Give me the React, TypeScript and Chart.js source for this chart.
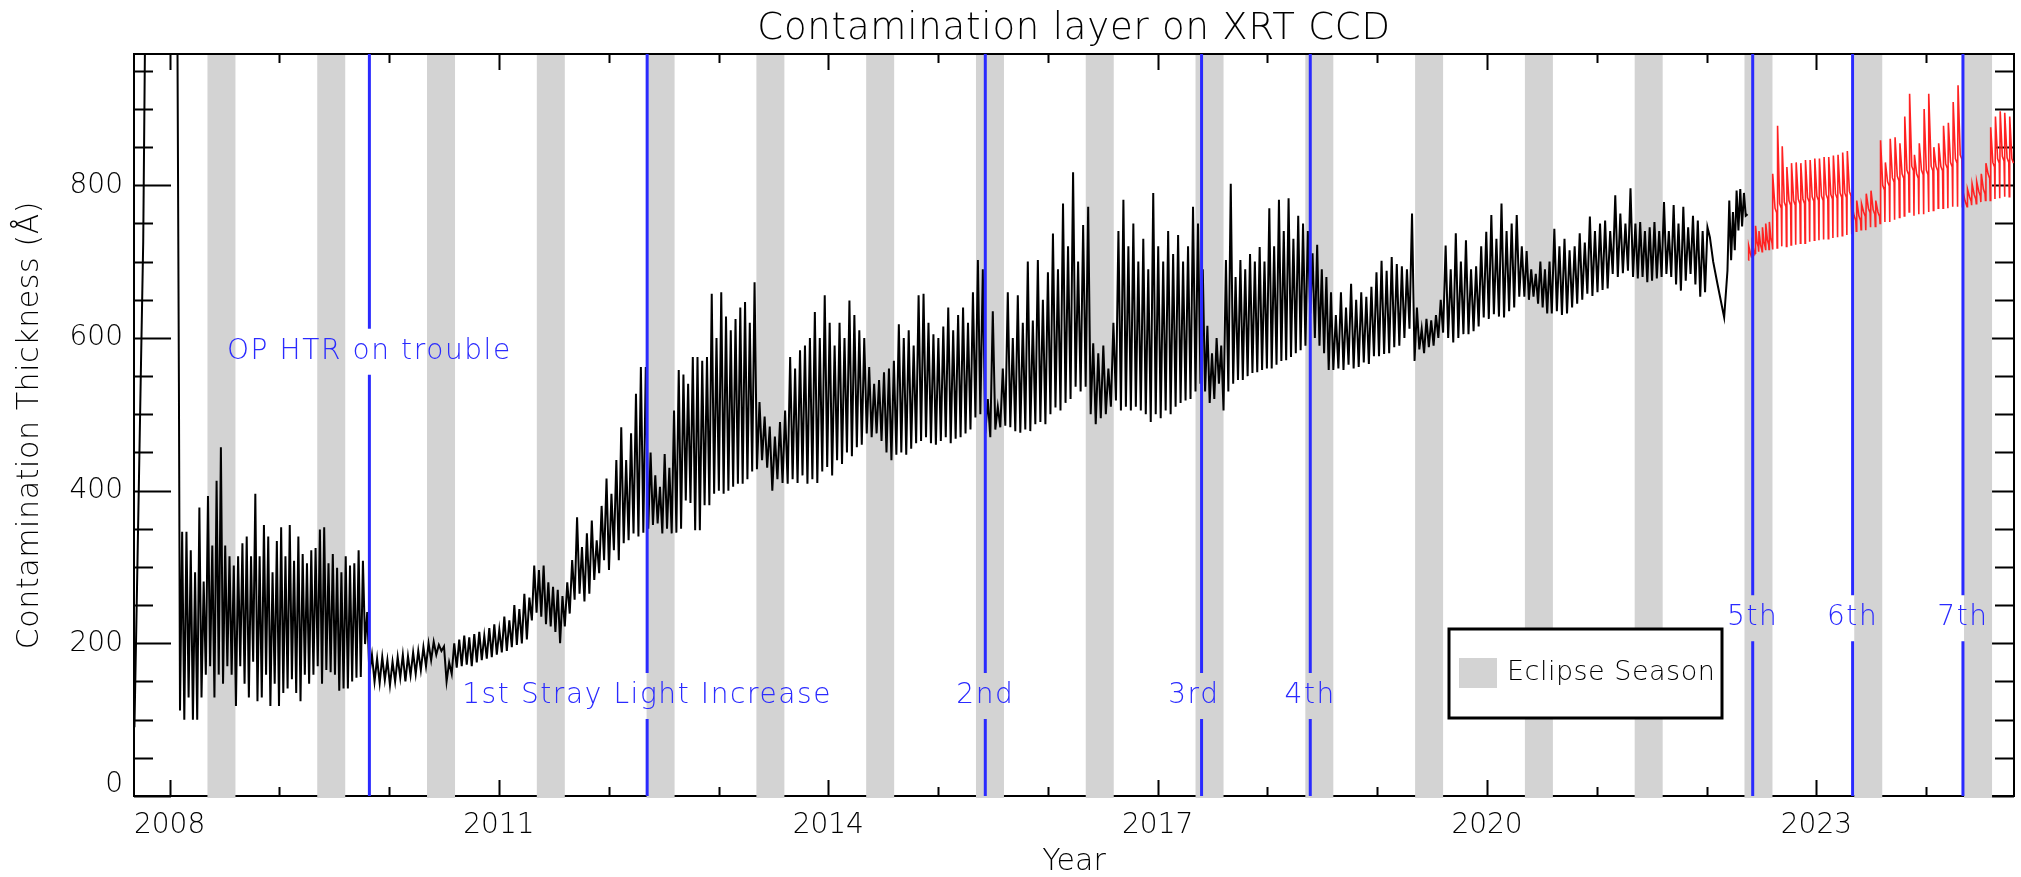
import React, { useEffect, useRef } from 'react';
import { Chart, registerables } from 'chart.js';

Chart.register(...registerables);

// ---------- axis ranges & ticks ----------
const X_MIN = 2007.676;
const X_MAX = 2024.8;
const Y_MIN = 0;
const Y_MAX = 972;

const xMajorTicks = [2008, 2011, 2014, 2017, 2020, 2023];
const xMajorLabels = ['2008', '2011', '2014', '2017', '2020', '2023'];
const xMinorTicks = [2008, 2009, 2010, 2011, 2012, 2013, 2014, 2015, 2016, 2017, 2018, 2019, 2020, 2021, 2022, 2023, 2024];
const yMajorTicks = [0, 200, 400, 600, 800];
const yMajorLabels = ['0', '200', '400', '600', '800'];
const yMinorTicks = [0, 50, 100, 150, 200, 250, 300, 350, 400, 450, 500, 550, 600, 650, 700, 750, 800, 850, 900, 950];

// ---------- eclipse seasons ----------
const eclipseStart = [2008.345, 2009.345, 2010.345, 2011.345, 2012.345, 2013.345, 2014.345, 2015.345, 2016.345, 2017.345, 2018.345, 2019.345, 2020.345, 2021.345, 2022.345, 2023.345, 2024.345];
const eclipseEnd = [2008.6, 2009.6, 2010.6, 2011.6, 2012.6, 2013.6, 2014.6, 2015.6, 2016.6, 2017.6, 2018.6, 2019.6, 2020.6, 2021.6, 2022.6, 2023.6, 2024.6];

// ---------- events (blue lines) ----------
const eventDates = [2009.82, 2012.35, 2015.43, 2017.4, 2018.39, 2022.42, 2023.33, 2024.335];
const eventLabels = ['OP HTR on trouble', '1st Stray Light Increase', '2nd', '3rd', '4th', '5th', '6th', '7th'];
const eventLabelValues = [582, 131, 131, 131, 131, 233, 233, 233];
const eventLabelShift = [0, 0, 0, -0.07, 0, 0, 0, 0];

// ---------- black series (XRT contamination) ----------
const rampDates = [2007.68, 2007.7, 2007.72, 2007.74, 2007.76, 2007.78, 2008.07, 2008.085];
const rampValues = [90, 245, 405, 568, 726, 1050, 1050, 542];

const dipDates = [2022.03, 2022.06, 2022.1, 2022.16, 2022.19];
const dipValues = [732, 700, 670, 627, 688];

const blackSpans: [number, number][] = [
  [2008.095, 2009.82], [2009.82, 2010.57], [2010.57, 2011.3], [2011.3, 2011.6], [2011.6, 2012.36],
  [2012.36, 2012.83], [2012.83, 2013.35], [2013.35, 2013.63], [2013.63, 2014.35], [2014.35, 2014.62],
  [2014.62, 2015.43], [2015.43, 2015.84], [2015.84, 2016.39], [2016.39, 2016.62], [2016.62, 2017.39],
  [2017.39, 2017.6], [2017.6, 2018.39], [2018.39, 2018.6], [2018.6, 2019.34], [2019.34, 2019.6],
  [2019.6, 2020.34], [2020.34, 2020.59], [2020.59, 2021.33], [2021.33, 2021.59], [2021.59, 2022.03],
  [2022.19, 2022.39],
];
const blackHighs: number[][] = [
  [346, 346, 322, 293, 378, 281, 393, 328, 413, 457, 328, 314, 302, 314, 331, 340, 314, 396, 314, 355, 340, 293, 334, 352, 314, 355, 308, 340, 317, 305, 322, 325, 349, 352, 305, 317, 299, 293, 314, 302, 305, 322, 308, 241],
  [185, 180, 182, 178, 176, 182, 185, 183, 188, 190, 195, 200, 202, 198, 196, 175],
  [200, 205, 210, 208, 212, 215, 210, 220, 225, 218, 235, 230, 250, 245, 265, 260],
  [302, 296, 302, 280, 274, 270, 262],
  [280, 309, 365, 326, 344, 361, 335, 380, 416, 396, 440, 483, 440, 475, 527, 562, 562],
  [450, 420, 405, 448, 430, 505, 558, 552, 540, 575, 575],
  [570, 575, 658, 600, 660, 628, 610, 625, 640, 647, 620, 673],
  [516, 497, 484, 471, 490, 505],
  [575, 560, 584, 590, 600, 634, 600, 656, 620, 590, 620, 600, 649, 630, 610, 600],
  [562, 540, 545, 555, 560, 570],
  [618, 600, 610, 590, 656, 658, 620, 605, 600, 615, 640, 610, 630, 640, 620, 660, 702, 690],
  [520, 635, 510, 560, 660, 600, 656, 620, 700],
  [623, 702, 650, 686, 737, 690, 776, 720, 817, 700, 748, 772],
  [593, 580, 590, 560, 620],
  [740, 781, 720, 750, 700, 730, 690, 790, 720, 700, 740, 710, 735, 700, 720, 772, 750],
  [690, 616, 580, 600, 590],
  [702, 802, 680, 702, 690, 710, 700, 719, 700, 770, 720, 781, 740, 783, 730, 760, 750, 740],
  [711, 722, 690, 680, 660],
  [630, 660, 640, 671, 650, 660, 654, 667, 686, 701, 688, 706, 697, 694, 690, 763],
  [640, 612, 625, 623, 630, 650],
  [721, 690, 737, 700, 728, 690, 694, 720, 739, 761, 730, 776, 740, 750, 761, 720],
  [714, 690, 684, 700, 690, 700],
  [743, 720, 730, 715, 720, 737, 725, 759, 740, 750, 754, 740, 787, 763, 750, 796],
  [750, 752, 740, 745, 752, 740],
  [778, 740, 774, 750, 772, 745, 760, 754, 740, 745],
  [780, 765, 793, 795, 790, 762],
];
const blackLows: number[][] = [
  [112, 100, 129, 100, 100, 129, 159, 170, 129, 159, 147, 170, 159, 118, 170, 147, 129, 176, 124, 129, 159, 118, 147, 118, 135, 141, 153, 135, 124, 159, 147, 159, 170, 147, 165, 162, 159, 138, 141, 141, 150, 155, 156, 199],
  [160, 150, 148, 152, 145, 150, 155, 150, 158, 160, 165, 170, 178, 185, 190, 150],
  [160, 168, 170, 172, 170, 175, 178, 180, 182, 185, 188, 190, 195, 198, 200, 205],
  [230, 240, 235, 225, 222, 215, 200],
  [222, 239, 257, 265, 255, 265, 283, 292, 309, 296, 322, 309, 331, 335, 344, 340, 345],
  [350, 355, 357, 344, 350, 344, 345, 350, 387, 384, 348],
  [348, 381, 381, 396, 400, 396, 400, 405, 409, 409, 415, 425],
  [428, 440, 430, 400, 415, 410],
  [409, 415, 410, 420, 409, 415, 410, 425, 431, 420, 440, 435, 450, 445, 457, 460],
  [475, 470, 475, 465, 450, 440],
  [447, 450, 447, 455, 462, 465, 470, 462, 460, 465, 470, 462, 468, 470, 475, 480, 496, 500],
  [475, 470, 480, 483, 485, 483, 478, 476, 480],
  [478, 487, 490, 487, 500, 509, 505, 515, 520, 536, 530, 536],
  [500, 487, 495, 500, 510],
  [518, 505, 510, 505, 510, 505, 500, 490, 500, 495, 505, 500, 510, 515, 518, 520, 530],
  [540, 530, 515, 520, 540],
  [505, 530, 540, 545, 545, 550, 554, 555, 558, 560, 560, 565, 570, 571, 575, 580, 584, 590],
  [632, 600, 590, 580, 558],
  [558, 560, 558, 565, 560, 562, 568, 566, 576, 576, 579, 580, 588, 590, 600, 612],
  [570, 585, 580, 588, 590, 600],
  [607, 600, 594, 600, 605, 605, 609, 615, 627, 625, 631, 628, 627, 635, 640, 654],
  [654, 650, 654, 645, 640, 632],
  [632, 635, 630, 632, 640, 645, 650, 658, 655, 660, 663, 665, 684, 680, 685, 688],
  [680, 678, 680, 673, 675, 678],
  [680, 684, 680, 670, 662, 675, 684, 670, 654, 660],
  [688, 702, 715, 741, 746, 760],
];

// ---------- red series (after 5th increase) ----------
const redSpans: [number, number][] = [
  [2022.38, 2022.6], [2022.6, 2023.32], [2023.32, 2023.58], [2023.58, 2024.33], [2024.33, 2024.54], [2024.54, 2024.8],
];
const redHighs: number[][] = [
  [721, 725, 747, 740, 745, 750, 752],
  [815, 878, 851, 824, 829, 830, 829, 833, 833, 835, 835, 837, 837, 839, 840, 843, 845],
  [776, 780, 776, 789, 793, 780],
  [859, 830, 861, 863, 855, 890, 920, 840, 855, 900, 920, 850, 855, 878, 882, 909, 931],
  [793, 795, 802, 805, 815],
  [829, 876, 890, 897, 895, 890],
];
const redMids: number[][] = [
  [712, 716, 725, 722, 725, 728, 730],
  [770, 776, 778, 780, 780, 782, 782, 784, 785, 786, 786, 788, 788, 789, 790, 790, 792],
  [760, 760, 765, 770, 768, 765],
  [800, 805, 810, 812, 815, 820, 825, 815, 820, 820, 825, 825, 825, 828, 830, 835, 840],
  [780, 785, 788, 792, 795],
  [815, 830, 835, 838, 836, 835],
];
const redLows: number[][] = [
  [702, 708, 711, 713, 713, 715, 716],
  [716, 718, 720, 720, 722, 722, 724, 724, 726, 728, 728, 729, 730, 731, 732, 734, 735],
  [736, 740, 742, 741, 745, 746],
  [750, 752, 752, 755, 758, 760, 765, 760, 762, 762, 765, 767, 770, 770, 770, 772, 772],
  [772, 772, 774, 776, 778],
  [780, 780, 782, 783, 785, 785],
];

// ---------- text ----------
const TITLE = 'Contamination layer on XRT CCD';
const X_TITLE = 'Year';
const Y_TITLE = 'Contamination Thickness (Å)';
const LEGEND_LABEL = 'Eclipse Season';

// ---------- styles ----------
const FONT_FAMILY = '"DejaVu Sans", "Liberation Sans", sans-serif';
const BLUE = '#2a2aff';
const RED = '#ff2222';
const GRAY = '#d3d3d3';

type Pt = { x: number; y: number };

function buildCycles(spans: [number, number][], highs: number[][], lows: number[][], mids?: number[][]): Pt[] {
  const pts: Pt[] = [];
  spans.forEach(([t0, t1], s) => {
    const n = highs[s].length;
    const dt = (t1 - t0) / n;
    for (let i = 0; i < n; i++) {
      pts.push({ x: t0 + i * dt, y: lows[s][i] });
      if (mids) {
        pts.push({ x: t0 + (i + 0.1) * dt, y: highs[s][i] });
        pts.push({ x: t0 + (i + 0.55) * dt, y: mids[s][i] });
        pts.push({ x: t0 + (i + 0.9) * dt, y: mids[s][i] - 6 });
      } else {
        pts.push({ x: t0 + (i + 0.5) * dt, y: highs[s][i] });
      }
    }
  });
  return pts;
}

function font(size: number, weight = 200) {
  return `${weight} ${size}px ${FONT_FAMILY}`;
}

function setSpacing(ctx: any, px: number) {
  if ('letterSpacing' in ctx) ctx.letterSpacing = `${px}px`;
}

const framePlugin = {
  id: 'idlFrame',
  beforeDatasetsDraw(chart: any) {
    const { ctx, chartArea: a, scales } = chart;
    const xs = scales.x;
    const ys = scales.y;
    ctx.save();
    ctx.strokeStyle = '#000';
    ctx.lineWidth = 2;
    ctx.strokeRect(a.left, a.top, a.right - a.left, a.bottom - a.top);
    ctx.beginPath();
    xMinorTicks.forEach((t) => {
      const px = Math.round(xs.getPixelForValue(t)) + 0.5;
      const len = xMajorTicks.includes(t) ? 16 : 9;
      ctx.moveTo(px, a.bottom);
      ctx.lineTo(px, a.bottom - len);
      ctx.moveTo(px, a.top);
      ctx.lineTo(px, a.top + len);
    });
    yMinorTicks.forEach((v) => {
      const py = Math.round(ys.getPixelForValue(v)) + 0.5;
      const len = yMajorTicks.includes(v) ? 37 : 19;
      ctx.moveTo(a.left, py);
      ctx.lineTo(a.left + len, py);
      ctx.moveTo(a.right, py);
      ctx.lineTo(a.right - len, py);
    });
    ctx.stroke();
    ctx.fillStyle = GRAY;
    eclipseStart.forEach((s, i) => {
      const x0 = xs.getPixelForValue(s);
      const x1 = xs.getPixelForValue(eclipseEnd[i]);
      ctx.fillRect(x0, a.top + 1, x1 - x0, a.bottom - a.top + 1);
    });
    ctx.restore();
  },
  afterDatasetsDraw(chart: any) {
    const { ctx, chartArea: a, scales } = chart;
    const xs = scales.x;
    const ys = scales.y;
    ctx.save();
    ctx.strokeStyle = BLUE;
    ctx.lineWidth = 3;
    eventDates.forEach((d, i) => {
      const px = xs.getPixelForValue(d);
      const ly = ys.getPixelForValue(eventLabelValues[i]);
      ctx.beginPath();
      ctx.moveTo(px, a.top);
      ctx.lineTo(px, ly - 23);
      ctx.moveTo(px, ly + 23);
      ctx.lineTo(px, a.bottom);
      ctx.stroke();
    });
    ctx.fillStyle = BLUE;
    ctx.font = font(28);
    setSpacing(ctx, 1.6);
    ctx.textAlign = 'center';
    ctx.textBaseline = 'middle';
    eventLabels.forEach((lab, i) => {
      ctx.fillText(lab, xs.getPixelForValue(eventDates[i] + eventLabelShift[i]), ys.getPixelForValue(eventLabelValues[i]));
    });
    setSpacing(ctx, 0);

    // legend
    const lx = 1449, ly = 629, lw = 273, lh = 89;
    ctx.fillStyle = '#fff';
    ctx.fillRect(lx, ly, lw, lh);
    ctx.strokeStyle = '#000';
    ctx.lineWidth = 3;
    ctx.strokeRect(lx, ly, lw, lh);
    ctx.fillStyle = GRAY;
    ctx.fillRect(lx + 10, ly + 29, 38, 30);
    ctx.fillStyle = '#000';
    ctx.font = font(27);
    setSpacing(ctx, 0.5);
    ctx.textAlign = 'left';
    ctx.fillText(LEGEND_LABEL, lx + 58, ly + 44);
    setSpacing(ctx, 0);

    // tick labels
    ctx.fillStyle = '#000';
    ctx.font = font(28);
    ctx.textAlign = 'right';
    ctx.textBaseline = 'middle';
    yMajorTicks.forEach((v, i) => {
      const py = Math.min(ys.getPixelForValue(v), a.bottom - 11);
      ctx.fillText(yMajorLabels[i], a.left - 11, py);
    });
    ctx.textAlign = 'center';
    xMajorTicks.forEach((t, i) => {
      ctx.fillText(xMajorLabels[i], xs.getPixelForValue(t), a.bottom + 30);
    });
    // axis titles
    ctx.font = font(30);
    ctx.fillText(X_TITLE, (a.left + a.right) / 2, a.bottom + 66);
    ctx.save();
    ctx.translate(30, (a.top + a.bottom) / 2);
    ctx.rotate(-Math.PI / 2);
    setSpacing(ctx, 0.6);
    ctx.fillText(Y_TITLE, 0, 0);
    setSpacing(ctx, 0);
    ctx.restore();
    // title
    ctx.font = font(37);
    setSpacing(ctx, 0.8);
    ctx.textBaseline = 'alphabetic';
    ctx.fillText(TITLE, (a.left + a.right) / 2, a.top - 15);
    setSpacing(ctx, 0);
    ctx.restore();
  },
};

export default function App() {
  const canvasRef = useRef<HTMLCanvasElement | null>(null);

  useEffect(() => {
    if (!canvasRef.current) return;
    const rampPts: Pt[] = rampDates.map((d, i) => ({ x: d, y: rampValues[i] }));
    const dipPts: Pt[] = dipDates.map((d, i) => ({ x: d, y: dipValues[i] }));
    const blackData = [...rampPts, ...buildCycles(blackSpans, blackHighs, blackLows), ...dipPts].sort((p, q) => p.x - q.x);
    const redData = buildCycles(redSpans, redHighs, redLows, redMids);

    const chart = new Chart(canvasRef.current, {
      type: 'line',
      data: {
        datasets: [
          { data: blackData, borderColor: '#000', borderWidth: 2, pointRadius: 0, tension: 0, fill: false },
          { data: redData, borderColor: RED, borderWidth: 1.6, pointRadius: 0, tension: 0, fill: false },
        ],
      },
      options: {
        animation: false,
        responsive: false,
        maintainAspectRatio: false,
        devicePixelRatio: 1,
        parsing: false,
        normalized: true,
        events: [],
        layout: { padding: { left: 134, top: 54, right: 7, bottom: 81 } },
        plugins: { legend: { display: false }, tooltip: { enabled: false }, title: { display: false } },
        scales: {
          x: { type: 'linear', min: X_MIN, max: X_MAX, display: false },
          y: { type: 'linear', min: Y_MIN, max: Y_MAX, display: false },
        },
      },
      plugins: [framePlugin],
    } as any);
    return () => chart.destroy();
  }, []);

  return (
    <div style={{ position: 'fixed', left: 0, top: 0, width: 2021, height: 877, background: '#fff' }}>
      <canvas ref={canvasRef} width={2021} height={877} style={{ width: 2021, height: 877, display: 'block' }} />
    </div>
  );
}
